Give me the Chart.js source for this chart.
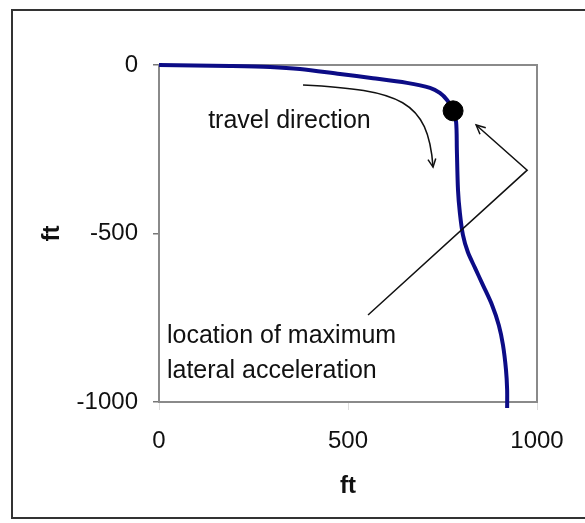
<!DOCTYPE html>
<html>
<head>
<meta charset="utf-8">
<script src="https://cdn.jsdelivr.net/npm/chart.js@4/dist/chart.umd.min.js"></script>
<style>
  body { margin: 0; background: #fff; }
  #frame { position: absolute; left: 11px; top: 9px; width: 600px; height: 506px;
           border: 2px solid #333; border-right: none; }
  #pathChart { position: absolute; left: 0; top: 0; }
</style>
</head>
<body>
<div id="frame"></div>
<canvas id="pathChart" width="585" height="523"></canvas>
<script>
// vehicle path (ft)
const pathX = [0, 188, 294, 373, 479, 566, 656, 717, 743, 762, 778, 786, 788, 791, 796, 804, 817, 836, 857, 881, 899, 910, 918, 921, 921];
const pathY = [0, -3, -6, -12, -27, -39, -53, -68, -83, -104, -134, -169, -252, -371, -439, -504, -555, -602, -653, -712, -772, -831, -905, -964, -1018];

// location of maximum lateral acceleration
const peakX = [778];
const peakY = [-136];

const xTicks = [0, 500, 1000];
const yTicks = [0, -500, -1000];

const fontFamily = '"Liberation Sans", Arial, sans-serif';

function toPoints(xs, ys) {
    return xs.map((x, i) => ({ x: x, y: ys[i] }));
}

function arrowHead(ctx, fromX, fromY, toX, toY, size) {
    const a = Math.atan2(toY - fromY, toX - fromX);
    ctx.beginPath();
    ctx.moveTo(toX - size * Math.cos(a - 0.45), toY - size * Math.sin(a - 0.45));
    ctx.lineTo(toX, toY);
    ctx.lineTo(toX - size * Math.cos(a + 0.45), toY - size * Math.sin(a + 0.45));
    ctx.stroke();
}

// plot box behind the data
const plotBox = {
    id: 'plotBox',
    beforeDatasetsDraw(chart) {
        const { ctx, chartArea: a } = chart;
        ctx.save();
        ctx.strokeStyle = '#8a8a8a';
        ctx.lineWidth = 2;
        ctx.strokeRect(a.left, a.top, a.right - a.left, a.bottom - a.top);
        ctx.restore();
    }
};

// text and arrows, placed in data units
const notes = {
    id: 'notes',
    afterDatasetsDraw(chart) {
        const { ctx } = chart;
        const sx = v => chart.scales.x.getPixelForValue(v);
        const sy = v => chart.scales.y.getPixelForValue(v);
        ctx.save();
        ctx.fillStyle = '#111';
        ctx.strokeStyle = '#111';
        ctx.lineWidth = 1.5;
        ctx.font = '25px ' + fontFamily;
        ctx.textBaseline = 'alphabetic';
        ctx.fillText('travel direction', sx(130), sy(-187));
        ctx.fillText('location of maximum', sx(21), sy(-825));
        ctx.fillText('lateral acceleration', sx(21), sy(-929));

        // curved travel arrow
        ctx.beginPath();
        ctx.moveTo(sx(381), sy(-59));
        ctx.bezierCurveTo(sx(638), sy(-74), sx(712), sy(-104), sx(725), sy(-303));
        ctx.stroke();
        arrowHead(ctx, sx(718), sy(-250), sx(725), sy(-303), 9);

        // pointer to the marker
        ctx.beginPath();
        ctx.moveTo(sx(553), sy(-742));
        ctx.lineTo(sx(974), sy(-312));
        ctx.lineTo(sx(839), sy(-178));
        ctx.stroke();
        arrowHead(ctx, sx(974), sy(-312), sx(839), sy(-178), 10);
        ctx.restore();
    }
};

new Chart(document.getElementById('pathChart'), {
    type: 'scatter',
    data: {
        datasets: [{
            data: toPoints(peakX, peakY),
            pointRadius: 10,
            pointBackgroundColor: '#000',
            pointBorderColor: '#000',
            showLine: false
        }, {
            data: toPoints(pathX, pathY),
            showLine: true,
            borderColor: '#0c0c86',
            borderWidth: 4,
            pointRadius: 0,
            tension: 0.3,
            clip: { left: 4, top: 4, right: 4, bottom: 12 }
        }]
    },
    options: {
        responsive: false,
        animation: false,
        layout: { padding: { left: 38, top: 65, right: 48, bottom: 0 } },
        plugins: { legend: { display: false }, tooltip: { enabled: false } },
        scales: {
            x: {
                type: 'linear',
                min: 0,
                max: 1000,
                afterBuildTicks: scale => { scale.ticks = xTicks.map(v => ({ value: v })); },
                afterFit: scale => { scale.height = 121; },
                ticks: {
                    color: '#111', padding: 17,
                    font: { family: fontFamily, size: 24 },
                    callback: v => String(v)
                },
                grid: { drawOnChartArea: false, tickLength: 8, color: '#dddddd' },
                border: { display: false },
                title: {
                    display: true, text: 'ft', color: '#111',
                    padding: { top: 0, bottom: 22 },
                    font: { family: fontFamily, size: 24, weight: 'bold' }
                }
            },
            y: {
                type: 'linear',
                min: -1000,
                max: 0,
                afterBuildTicks: scale => { scale.ticks = yTicks.map(v => ({ value: v })); },
                afterFit: scale => { scale.width = 121; },
                ticks: {
                    color: '#111', padding: 15,
                    font: { family: fontFamily, size: 24 },
                    callback: v => String(v)
                },
                grid: { drawOnChartArea: false, tickLength: 6, color: '#777', lineWidth: 1.5 },
                border: { display: false },
                title: {
                    display: true, text: 'ft', color: '#111',
                    padding: { top: 0, bottom: 0 },
                    font: { family: fontFamily, size: 24, weight: 'bold' }
                }
            }
        }
    },
    plugins: [plotBox, notes]
});
</script>
</body>
</html>
